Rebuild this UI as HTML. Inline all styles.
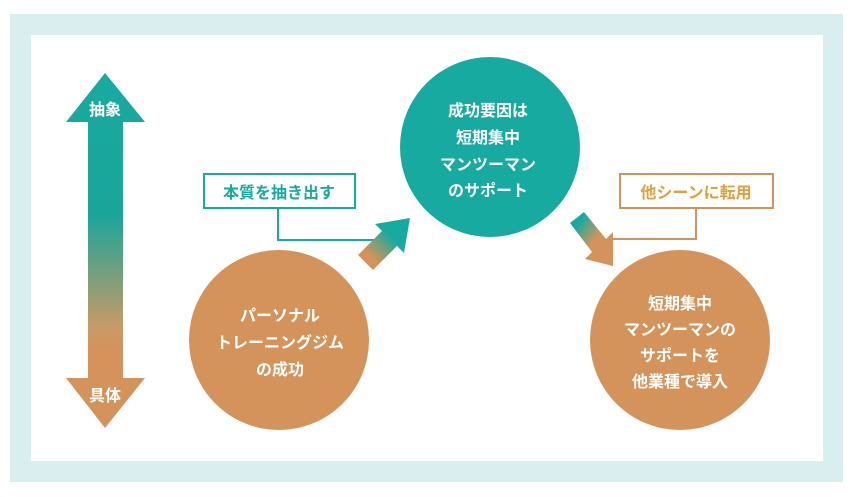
<!DOCTYPE html>
<html><head><meta charset="utf-8"><style>
body{margin:0;width:854px;height:492px;background:#fff;overflow:hidden;font-family:"Liberation Sans","Noto Sans CJK JP",sans-serif;}
</style></head><body>
<svg width="854" height="492" xmlns="http://www.w3.org/2000/svg" font-family="'Liberation Sans','Noto Sans CJK JP',sans-serif" font-weight="bold">
<defs>
<linearGradient id="g1" x1="0" y1="0" x2="0" y2="1">
<stop offset="0" stop-color="#17aaa0"/><stop offset="0.4" stop-color="#1aa59a"/><stop offset="0.72" stop-color="#c99a66"/><stop offset="0.78" stop-color="#d4935a"/><stop offset="1" stop-color="#d4935a"/></linearGradient>
<linearGradient id="g2" x1="0" y1="1" x2="1" y2="0">
<stop offset="0.25" stop-color="#d4935a"/><stop offset="0.65" stop-color="#17aaa0"/></linearGradient>
<linearGradient id="g3" x1="0" y1="0" x2="1" y2="1">
<stop offset="0.2" stop-color="#17aaa0"/><stop offset="0.55" stop-color="#d4935a"/></linearGradient>
</defs>
<rect x="10" y="14" width="833" height="468" fill="#d9eeee"/>
<rect x="31" y="35" width="792" height="426" fill="#fff"/>
<polygon points="105,73 145,122 123,122 123,378 145,378 105,428 66,378 88,378 88,122 66,122" fill="url(#g1)"/>
<text x="105" y="115" font-size="16" fill="#fff" text-anchor="middle">抽象</text>
<text x="105" y="401" font-size="16" fill="#fff" text-anchor="middle">具体</text>
<circle cx="279" cy="340" r="90" fill="#d4935a"/>
<g font-size="16" fill="#fff" text-anchor="middle">
<text x="280" y="321">パーソナル</text><text x="280" y="348">トレーニングジム</text><text x="280" y="375">の成功</text>
</g>
<polyline points="278,208 278,240 378,240" fill="none" stroke="#17aaa0" stroke-width="2"/>
<rect x="204" y="174" width="151" height="34" fill="#fff" stroke="#17aaa0" stroke-width="2"/>
<text x="279" y="198" font-size="16" fill="#17aaa0" text-anchor="middle">本質を抽き出す</text>
<polygon points="358,255 382,231 375,224 410,218 404,253 397,246 373,270" fill="url(#g2)"/>
<circle cx="490" cy="147" r="90" fill="#17aaa0"/>
<g font-size="16" fill="#fff" text-anchor="middle">
<text x="488" y="116">成功要因は</text><text x="488" y="143">短期集中</text><text x="488" y="170">マンツーマン</text><text x="488" y="196">のサポート</text>
</g>
<polyline points="696,208 696,239 610,239" fill="none" stroke="#d4935a" stroke-width="2"/>
<rect x="620" y="174" width="153" height="34" fill="#fff" stroke="#d4935a" stroke-width="2"/>
<text x="696" y="198" font-size="16" fill="#e0a040" text-anchor="middle">他シーンに転用</text>
<polygon points="570,223 584,212 606,239 613,232 613,266 585,259 592,252" fill="url(#g3)"/>
<circle cx="680" cy="340" r="90" fill="#d4935a"/>
<g font-size="16" fill="#fff" text-anchor="middle">
<text x="680" y="309">短期集中</text><text x="680" y="335">マンツーマンの</text><text x="680" y="361">サポートを</text><text x="680" y="387">他業種で導入</text>
</g>
</svg>
</body></html>
